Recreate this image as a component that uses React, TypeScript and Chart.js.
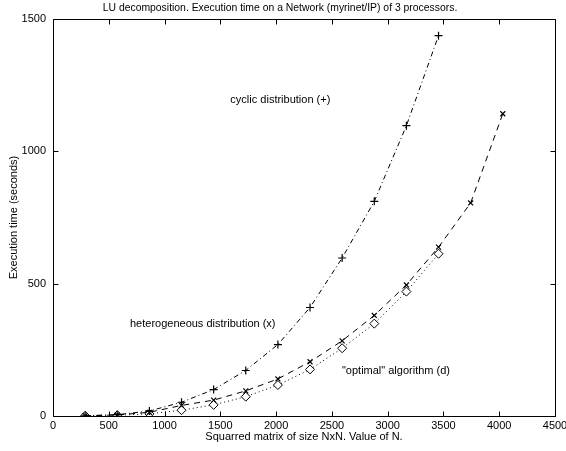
import React, { useEffect, useRef } from 'react';
import { Chart, registerables } from 'chart.js';

Chart.register(...registerables);

const titleText = 'LU decomposition. Execution time on a Network (myrinet/IP) of 3 processors.';
const xTitle = 'Squarred matrix of size NxN. Value of N.';
const yTitle = 'Execution time (seconds)';

const cyclicN = [288, 576, 864, 1152, 1440, 1728, 2016, 2304, 2592, 2880, 3168, 3456];
const cyclicTimes = [1, 5, 19, 52, 100, 172, 270, 410, 597, 811, 1097, 1437];

const heteroN = [288, 576, 864, 1152, 1440, 1728, 2016, 2304, 2592, 2880, 3168, 3456, 3744, 4032];
const heteroTimes = [1, 4, 14, 40, 60, 95, 140, 205, 284, 380, 495, 638, 805, 1142];

const optimalN = [288, 576, 864, 1152, 1440, 1728, 2016, 2304, 2592, 2880, 3168, 3456];
const optimalTimes = [1, 3, 8, 22, 42, 73, 117, 176, 256, 349, 470, 613];

const xTicks = [0, 500, 1000, 1500, 2000, 2500, 3000, 3500, 4000, 4500];
const yTicks = [0, 500, 1000, 1500];

// annotation labels anchored in data coordinates: [text, N, time]
const annotations: [string, number, number][] = [
  ['cyclic distribution (+)', 1590, 1195],
  ['heterogeneous distribution (x)', 690, 348],
  ['"optimal" algorithm (d)', 2590, 170],
];

const FONT = 'Liberation Sans, Arial, Helvetica, sans-serif';

const framePlugin = {
  id: 'frame',
  afterDatasetsDraw(chart: any) {
    const { ctx, chartArea } = chart;
    const { left, right, top, bottom } = chartArea;
    const xs = chart.scales.x;
    const ys = chart.scales.y;
    ctx.save();
    ctx.strokeStyle = '#000';
    ctx.lineWidth = 1;
    const L = Math.round(left) + 0.5;
    const R = Math.round(right) + 0.5;
    const T = Math.round(top) + 0.5;
    const B = Math.round(bottom) + 0.5;
    ctx.beginPath();
    ctx.rect(L, T, R - L, B - T);
    ctx.stroke();
    const tl = 5;
    ctx.beginPath();
    xTicks.forEach((v) => {
      const px = Math.round(xs.getPixelForValue(v)) + 0.5;
      ctx.moveTo(px, B);
      ctx.lineTo(px, B - tl);
      ctx.moveTo(px, T);
      ctx.lineTo(px, T + tl);
    });
    yTicks.forEach((v) => {
      const py = Math.round(ys.getPixelForValue(v)) + 0.5;
      ctx.moveTo(L, py);
      ctx.lineTo(L + tl, py);
      ctx.moveTo(R, py);
      ctx.lineTo(R - tl, py);
    });
    ctx.stroke();

    ctx.fillStyle = '#000';
    ctx.font = `10.4px ${FONT}`;
    ctx.textBaseline = 'middle';
    ctx.textAlign = 'center';
    ctx.fillText(titleText, 280, 8);

    ctx.font = `11px ${FONT}`;
    ctx.textAlign = 'left';
    annotations.forEach(([t, n, v]) => {
      ctx.fillText(t, xs.getPixelForValue(n), ys.getPixelForValue(v));
    });
    ctx.restore();
  },
};

export default function App() {
  const canvasRef = useRef<HTMLCanvasElement | null>(null);

  useEffect(() => {
    const canvas = canvasRef.current;
    if (!canvas) return;
    const tickFont = { family: FONT, size: 11 };
    const chart = new Chart(canvas, {
      type: 'line',
      data: {
        datasets: [
          {
            label: 'cyclic',
            data: cyclicN.map((n, i) => ({ x: n, y: cyclicTimes[i] })),
            borderColor: '#000',
            backgroundColor: '#000',
            borderWidth: 1,
            borderDash: [5, 3, 1, 3],
            pointStyle: 'cross',
            pointRadius: 4,
            pointBorderWidth: 1.2,
            tension: 0,
            fill: false,
          },
          {
            label: 'heterogeneous',
            data: heteroN.map((n, i) => ({ x: n, y: heteroTimes[i] })),
            borderColor: '#000',
            backgroundColor: '#000',
            borderWidth: 1,
            borderDash: [6, 5],
            pointStyle: 'crossRot',
            pointRadius: 3.5,
            pointBorderWidth: 1.2,
            tension: 0,
            fill: false,
          },
          {
            label: 'optimal',
            data: optimalN.map((n, i) => ({ x: n, y: optimalTimes[i] })),
            borderColor: '#000',
            backgroundColor: 'rgba(0,0,0,0)',
            pointBackgroundColor: '#fff',
            borderWidth: 1,
            borderDash: [1, 3],
            pointStyle: 'rectRot',
            pointRadius: 4.5,
            pointBorderWidth: 1,
            tension: 0,
            fill: false,
          },
        ],
      },
      options: {
        responsive: false,
        animation: false,
        layout: { padding: { top: 19, right: 11, left: 0, bottom: 0 } },
        plugins: {
          legend: { display: false },
          tooltip: { enabled: false },
          title: { display: false },
        },
        scales: {
          x: {
            type: 'linear',
            min: 0,
            max: 4500,
            afterBuildTicks: (s: any) => {
              s.ticks = xTicks.map((v) => ({ value: v }));
            },
            ticks: {
              font: tickFont,
              color: '#000',
              padding: 3,
              maxRotation: 0,
              autoSkip: false,
              callback: (v: any) => String(v),
            },
            grid: { display: false, drawTicks: false },
            border: { display: false },
            title: {
              display: true,
              text: xTitle,
              color: '#000',
              font: tickFont,
              padding: { top: 0, bottom: 7.4 },
            },
            afterFit: (s: any) => {
              s.height = 35;
              s.paddingLeft = 0;
              s.paddingRight = 0;
            },
          },
          y: {
            type: 'linear',
            min: 0,
            max: 1500,
            afterBuildTicks: (s: any) => {
              s.ticks = yTicks.map((v) => ({ value: v }));
            },
            ticks: {
              font: tickFont,
              color: '#000',
              padding: 7,
              callback: (v: any) => String(v),
            },
            grid: { display: false, drawTicks: false },
            border: { display: false },
            title: {
              display: true,
              text: yTitle,
              color: '#000',
              font: tickFont,
              padding: { top: 7.4, bottom: 0 },
            },
            afterFit: (s: any) => {
              s.width = 53;
              s.paddingTop = 0;
              s.paddingBottom = 0;
            },
          },
        },
      },
      plugins: [framePlugin],
    });
    return () => chart.destroy();
  }, []);

  return (
    <div style={{ position: 'absolute', left: 0, top: 0, width: 566, height: 451, background: '#fff' }}>
      <canvas ref={canvasRef} width={566} height={451} />
    </div>
  );
}
